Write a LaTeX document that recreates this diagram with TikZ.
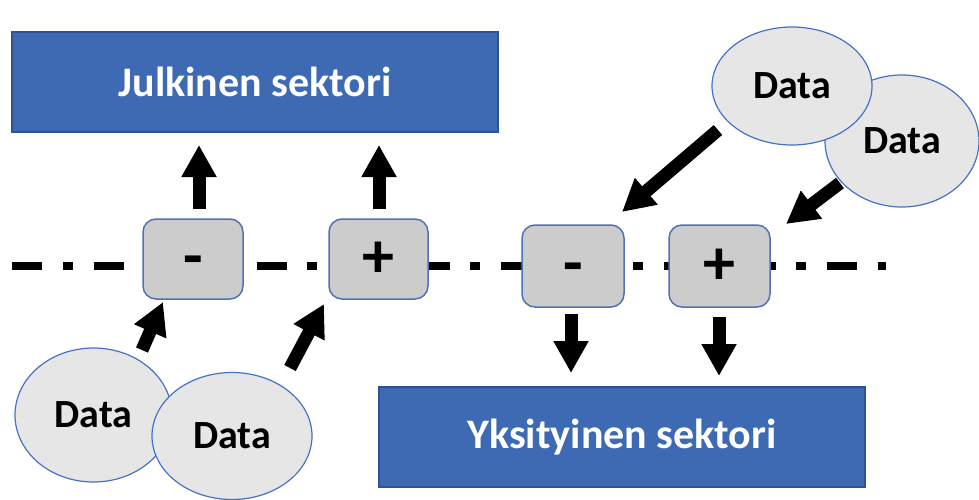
\documentclass[tikz,border=0pt]{standalone}
\usepackage{fontspec}
\setmainfont{Carlito}
\usetikzlibrary{arrows.meta,shapes.geometric}
\definecolor{secblue}{RGB}{62,106,180}
\definecolor{secedge}{RGB}{47,82,150}
\definecolor{opfill}{RGB}{204,204,204}
\definecolor{opedge}{RGB}{78,114,178}
\definecolor{datafill}{RGB}{230,230,230}
\definecolor{dataedge}{RGB}{68,114,196}
\tikzset{
  sector/.style={draw=secedge, line width=1.2pt, fill=secblue, text=white, inner sep=0pt,
    font=\fontsize{42}{50}\selectfont\bfseries},
  opbox/.style={draw=opedge, line width=1.5pt, fill=opfill, rounded corners=13pt, inner sep=0pt,
    font=\fontsize{64}{70}\selectfont\bfseries, text height=36pt, text depth=0pt},
  databubble/.style={ellipse, draw=dataedge, line width=1.2pt, fill=datafill, inner sep=0pt,
    font=\fontsize{40}{48}\selectfont\bfseries},
  bigarrow/.style={line width=13pt, -{Triangle[width=33pt,length=32pt]}},
  dashdot/.style={line width=8pt, dash pattern=on 30pt off 20.5pt on 10pt off 21pt}
}
\begin{document}
\begin{tikzpicture}[x=1pt,y=-1pt]
\useasboundingbox (0,0) rectangle (979,500);
% dash-dot line
\coordinate (lineL) at (12,265.5);
\coordinate (lineR) at (886,265.5);
\draw[dashdot] (lineL) -- (lineR);
% sectors
\node[sector, minimum width=486pt, minimum height=100pt] (pub) at (255,82) {Julkinen sektori};
\node[sector, minimum width=486pt, minimum height=100pt] (priv) at (622,437) {Yksityinen sektori};
% operator boxes
\node[opbox, minimum width=100pt, minimum height=80pt] (m1) at (193,259) {-};
\node[opbox, minimum width=99pt, minimum height=80pt] (p1) at (378.5,259) {+};
\node[opbox, minimum width=102pt, minimum height=82pt] (m2) at (573,266) {-};
\node[opbox, minimum width=101pt, minimum height=82pt] (p2) at (719.5,266) {+};
% data bubbles
\node[databubble, minimum width=157pt, minimum height=134pt] (d1) at (93.5,415) {Data};
\node[databubble, minimum width=160pt, minimum height=127pt] (d2) at (232,436) {Data};
\node[databubble, minimum width=154pt, minimum height=132pt] (d4) at (902,141) {Data};
\node[databubble, minimum width=160pt, minimum height=118pt] (d3) at (792,86) {Data};
% arrow end points
\coordinate (m1up0) at (199,209);
\coordinate (m1up1) at (199,145);
\coordinate (p1up0) at (379,209);
\coordinate (p1up1) at (379,145);
\coordinate (m2dn0) at (571,314);
\coordinate (m2dn1) at (571,373);
\coordinate (p2dn0) at (719,317);
\coordinate (p2dn1) at (719,376);
\coordinate (d1a) at (142,350);
\coordinate (d1b) at (163,302);
\coordinate (d2a) at (290,368);
\coordinate (d2b) at (324,304);
\coordinate (d3a) at (718,130);
\coordinate (d3b) at (622,212);
\coordinate (d4a) at (840,183);
\coordinate (d4b) at (786,224);
% arrows
\draw[bigarrow] (m1up0) -- (m1up1);
\draw[bigarrow] (p1up0) -- (p1up1);
\draw[bigarrow] (m2dn0) -- (m2dn1);
\draw[bigarrow] (p2dn0) -- (p2dn1);
\draw[bigarrow] (d1a) -- (d1b);
\draw[bigarrow] (d2a) -- (d2b);
\draw[bigarrow] (d3a) -- (d3b);
\draw[bigarrow] (d4a) -- (d4b);
\end{tikzpicture}
\end{document}
